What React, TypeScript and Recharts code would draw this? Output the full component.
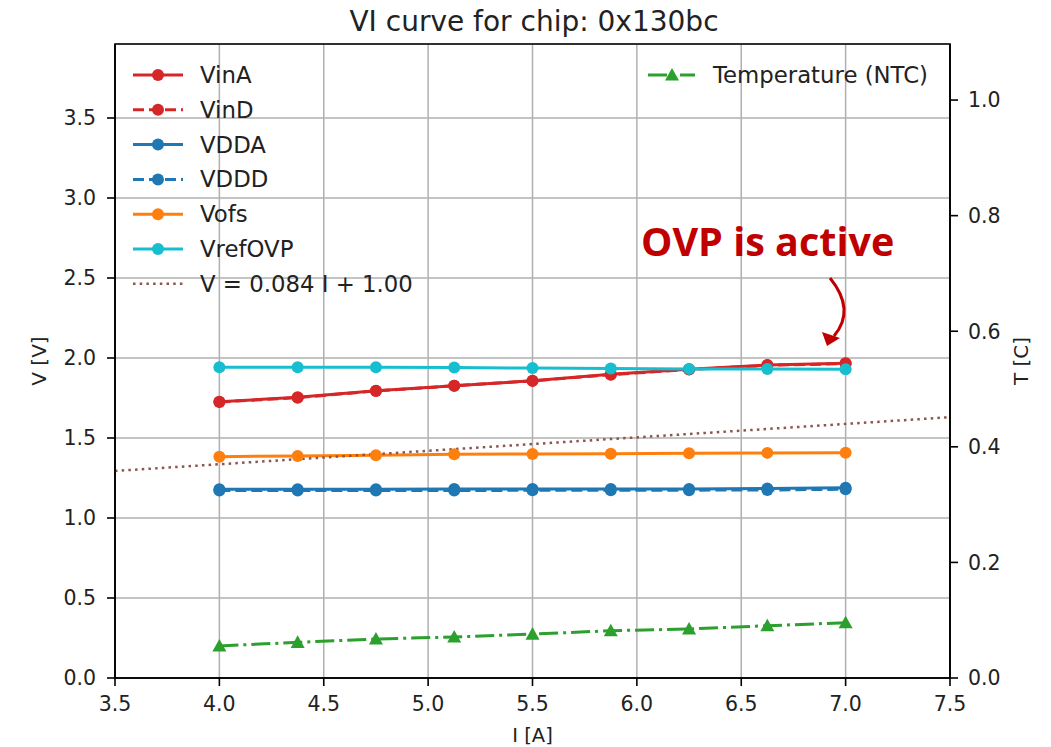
import React from 'react';
import {
  ComposedChart, Line, XAxis, YAxis, CartesianGrid, ReferenceArea,
} from 'recharts';

// current steps [A]
const currents = [4.0, 4.375, 4.75, 5.125, 5.5, 5.875, 6.25, 6.625, 7.0];

// voltages [V]
const vinA = [1.727, 1.754, 1.796, 1.827, 1.858, 1.898, 1.929, 1.956, 1.967];
const vinD = [1.725, 1.752, 1.794, 1.826, 1.857, 1.896, 1.928, 1.954, 1.965];
const vdda = [1.180, 1.180, 1.180, 1.181, 1.181, 1.181, 1.182, 1.184, 1.189];
const vddd = [1.172, 1.172, 1.172, 1.172, 1.173, 1.173, 1.174, 1.175, 1.180];
const vofs = [1.383, 1.388, 1.392, 1.398, 1.400, 1.402, 1.405, 1.407, 1.408];
const vrefOVP = [1.942, 1.942, 1.942, 1.941, 1.937, 1.935, 1.932, 1.931, 1.930];

// NTC temperature (right axis)
const tempNTC = [0.0554, 0.0617, 0.0675, 0.071, 0.076, 0.0818, 0.0848, 0.0905, 0.0957];

// fitted line end points: V = 0.084 I + 1.00
const fitI = [3.5, 7.5];
const fitV = [1.294, 1.630];

const xTicks = [3.5, 4.0, 4.5, 5.0, 5.5, 6.0, 6.5, 7.0, 7.5];
const vTicks = [0, 0.5, 1.0, 1.5, 2.0, 2.5, 3.0, 3.5];
const tTicks = [0, 0.2, 0.4, 0.6, 0.8, 1.0];
const vMax = 3.9625;
const tMax = 1.097;

const rows: any[] = [
  { I: fitI[0], fit: fitV[0] },
  ...currents.map((I, i) => ({
    I,
    vinA: vinA[i],
    vinD: vinD[i],
    vdda: vdda[i],
    vddd: vddd[i],
    vofs: vofs[i],
    vrefOVP: vrefOVP[i],
    temp: tempNTC[i],
  })),
  { I: fitI[1], fit: fitV[1] },
];

const RED = '#d62728';
const BLUE = '#1f77b4';
const ORANGE = '#ff7f0e';
const CYAN = '#17becf';
const GREEN = '#2ca02c';
const BROWN = '#8c564b';
const FONT = '"DejaVu Sans", sans-serif';
const DASH = '11 5';
const DASHDOT = '19 5 3 5';
const DOTTED = '2.5 4.2';

const circleDot = (color: string) => (p: any) => {
  if (p.value == null || p.cx == null) return <g key={p.key} />;
  return <circle key={p.key} cx={p.cx} cy={p.cy} r={6} fill={color} stroke="none" />;
};

const triDot = (color: string) => (p: any) => {
  if (p.value == null || p.cx == null) return <g key={p.key} />;
  const s = 7;
  return (
    <polygon
      key={p.key}
      points={`${p.cx},${p.cy - s} ${p.cx - s},${p.cy + s * 0.8} ${p.cx + s},${p.cy + s * 0.8}`}
      fill={color}
    />
  );
};

const leftLegend = [
  { name: 'VinA', color: RED, dash: undefined, marker: true },
  { name: 'VinD', color: RED, dash: DASH, marker: true },
  { name: 'VDDA', color: BLUE, dash: undefined, marker: true },
  { name: 'VDDD', color: BLUE, dash: DASH, marker: true },
  { name: 'Vofs', color: ORANGE, dash: undefined, marker: true },
  { name: 'VrefOVP', color: CYAN, dash: undefined, marker: true },
  { name: 'V = 0.084 I + 1.00', color: BROWN, dash: DOTTED, marker: false },
];

const tickStyle = { fontFamily: FONT, fontSize: 20.5, fill: '#222' };

export default function App() {
  return (
    <div style={{ position: 'absolute', left: 0, top: 0, width: 1051, height: 747, background: '#fff' }}>
      <ComposedChart
        width={1051}
        height={747}
        data={rows}
        margin={{ top: 44, right: 0, bottom: 0, left: 0 }}
      >
        <CartesianGrid yAxisId="left" stroke="#b0b0b0" strokeWidth={1.5} />
        <XAxis
          dataKey="I"
          type="number"
          domain={[3.5, 7.5]}
          ticks={xTicks}
          tickFormatter={(v: number) => v.toFixed(1)}
          height={69}
          tickSize={8}
          tickMargin={10}
          tick={tickStyle}
          axisLine={{ stroke: '#000', strokeWidth: 1.6 }}
          tickLine={{ stroke: '#000', strokeWidth: 1.6 }}
          allowDataOverflow
          label={{
            content: (p: any) => {
              const vb = p.viewBox;
              return (
                <text x={vb.x + vb.width / 2} y={742} textAnchor="middle" style={{ fontFamily: FONT, fontSize: 19.5, fill: '#222' }}>
                  I [A]
                </text>
              );
            },
          }}
        />
        <YAxis
          yAxisId="left"
          type="number"
          domain={[0, vMax]}
          ticks={vTicks}
          tickFormatter={(v: number) => v.toFixed(1)}
          width={115}
          tickSize={8}
          tickMargin={11}
          tick={tickStyle}
          axisLine={{ stroke: '#000', strokeWidth: 1.6 }}
          tickLine={{ stroke: '#000', strokeWidth: 1.6 }}
          allowDataOverflow
          label={{
            content: (p: any) => {
              const vb = p.viewBox;
              const cy = vb.y + vb.height / 2;
              return (
                <text x={46} y={cy} textAnchor="middle" transform={`rotate(-90, 46, ${cy})`} style={{ fontFamily: FONT, fontSize: 20, fill: '#222' }}>
                  V [V]
                </text>
              );
            },
          }}
        />
        <YAxis
          yAxisId="right"
          orientation="right"
          type="number"
          domain={[0, tMax]}
          ticks={tTicks}
          tickFormatter={(v: number) => v.toFixed(1)}
          width={101}
          tickSize={8}
          tickMargin={10}
          tick={tickStyle}
          axisLine={{ stroke: '#000', strokeWidth: 1.6 }}
          tickLine={{ stroke: '#000', strokeWidth: 1.6 }}
          allowDataOverflow
          label={{
            content: (p: any) => {
              const vb = p.viewBox;
              const cy = vb.y + vb.height / 2;
              return (
                <text x={1028} y={cy} textAnchor="middle" transform={`rotate(-90, 1028, ${cy})`} style={{ fontFamily: FONT, fontSize: 20, fill: '#222' }}>
                  T [C]
                </text>
              );
            },
          }}
        />
        <ReferenceArea
          yAxisId="left"
          x1={3.5}
          x2={7.5}
          y1={0}
          y2={vMax}
          fill="none"
          fillOpacity={0}
          stroke="#000"
          strokeWidth={1.6}
          ifOverflow="visible"
        />
        <Line yAxisId="left" dataKey="vinA" stroke={RED} strokeWidth={3} dot={circleDot(RED)} isAnimationActive={false} />
        <Line yAxisId="left" dataKey="vinD" stroke={RED} strokeWidth={3} strokeDasharray={DASH} dot={circleDot(RED)} isAnimationActive={false} />
        <Line yAxisId="left" dataKey="vdda" stroke={BLUE} strokeWidth={3} dot={circleDot(BLUE)} isAnimationActive={false} />
        <Line yAxisId="left" dataKey="vddd" stroke={BLUE} strokeWidth={3} strokeDasharray={DASH} dot={circleDot(BLUE)} isAnimationActive={false} />
        <Line yAxisId="left" dataKey="vofs" stroke={ORANGE} strokeWidth={3} dot={circleDot(ORANGE)} isAnimationActive={false} />
        <Line yAxisId="left" dataKey="vrefOVP" stroke={CYAN} strokeWidth={3} dot={circleDot(CYAN)} isAnimationActive={false} />
        <Line yAxisId="left" dataKey="fit" stroke={BROWN} strokeWidth={2.5} strokeDasharray={DOTTED} dot={false} connectNulls isAnimationActive={false} />
        <Line yAxisId="right" dataKey="temp" stroke={GREEN} strokeWidth={3} strokeDasharray={DASHDOT} dot={triDot(GREEN)} isAnimationActive={false} />
      </ComposedChart>

      {/* title, legends and annotation */}
      <svg width={1051} height={747} style={{ position: 'absolute', left: 0, top: 0, pointerEvents: 'none' }}>
        <text x={534} y={31} textAnchor="middle" style={{ fontFamily: FONT, fontSize: 28, fill: '#222' }}>
          VI curve for chip: 0x130bc
        </text>

        {leftLegend.map((s, i) => {
          const y = 75 + i * 34.8;
          return (
            <g key={s.name}>
              <line x1={133} x2={183} y1={y} y2={y} stroke={s.color} strokeWidth={s.dash === DOTTED ? 2.5 : 3} strokeDasharray={s.dash} />
              {s.marker && <circle cx={158} cy={y} r={6} fill={s.color} />}
              <text x={200} y={y + 8} style={{ fontFamily: FONT, fontSize: 22.8, fill: '#222' }}>
                {s.name}
              </text>
            </g>
          );
        })}

        <g>
          <line x1={648} x2={695} y1={75} y2={75} stroke={GREEN} strokeWidth={3} strokeDasharray={DASHDOT} />
          <polygon points="672,68 665,80.5 679,80.5" fill={GREEN} />
          <text x={713} y={83} style={{ fontFamily: FONT, fontSize: 22.8, fill: '#222' }}>
            Temperature (NTC)
          </text>
        </g>

        <text x={641} y={256} style={{ fontFamily: '"Open Sans", sans-serif', fontWeight: 700, fontSize: 39.5, fill: '#c00000' }}>
          OVP is active
        </text>
        <path d="M830,278 Q856,310 834,336" fill="none" stroke="#c00000" strokeWidth={3} />
        <polygon points="827,346 822,332 840,338" fill="#c00000" />
      </svg>
    </div>
  );
}
